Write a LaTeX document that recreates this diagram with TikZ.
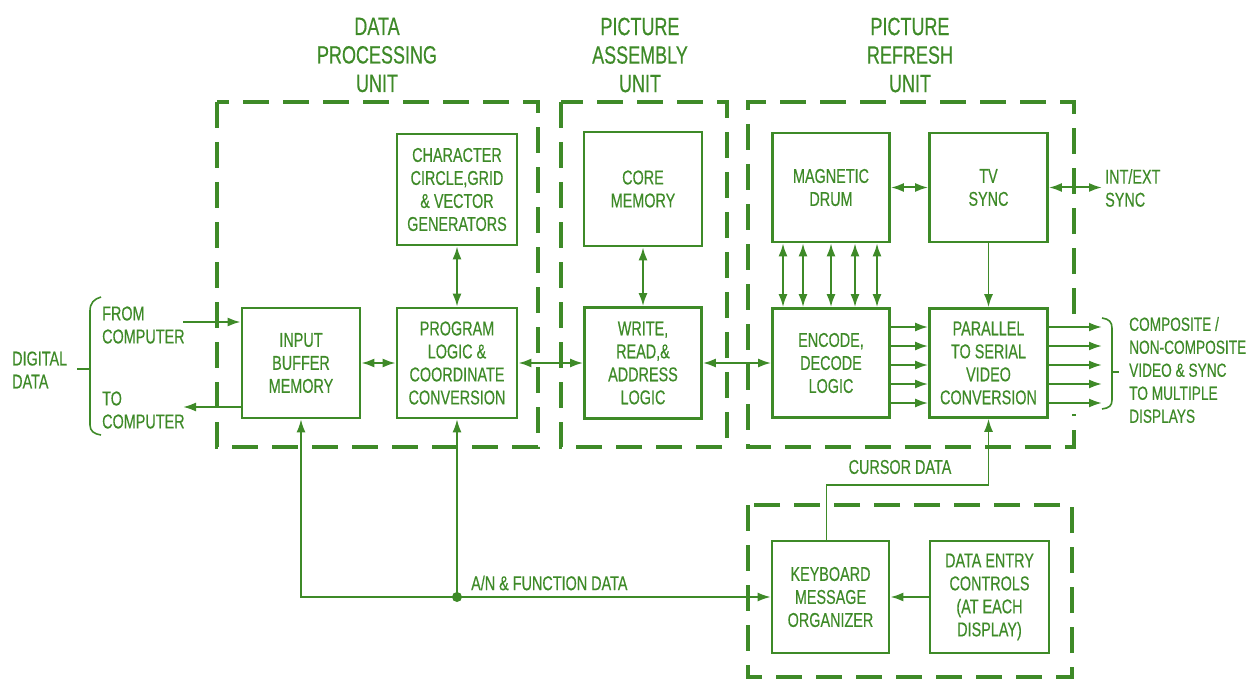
\documentclass[tikz,border=0pt]{standalone}
\usepackage{fontspec}
\setmainfont{Liberation Sans}[FakeStretch=0.72,FakeBold=0.4]
\usetikzlibrary{arrows.meta}
\definecolor{dg}{RGB}{62,138,40}
\begin{document}
\begin{tikzpicture}[x=1pt,y=-1pt,
 every node/.style={text=dg},
 blk/.style={draw=dg, line width=2.7pt, align=center, inner sep=0pt, font=\fontsize{20}{23}\selectfont},
 unitbox/.style={draw=dg, line width=4.5pt, dash pattern=on 26pt off 14pt},
 ttl/.style={align=center, font=\fontsize{25}{28.5}\selectfont},
 lbl/.style={align=left, inner sep=0pt, font=\fontsize{20}{23}\selectfont, anchor=west},
 conn/.style={draw=dg, line width=2pt},
 thinl/.style={draw=dg, line width=1.6pt},
 tip/.style={-{Latex[length=13pt,width=9pt]}},
 dtip/.style={{Latex[length=13pt,width=9pt]}-{Latex[length=13pt,width=9pt]}},
]
\useasboundingbox (0,0) rectangle (1259,682);

% unit boxes
\draw[unitbox] (217,102) rectangle (538,447);
\draw[unitbox] (561,102) rectangle (727,447);
\draw[unitbox] (1074,314) -- (1074,102) -- (748,102) -- (748,447) -- (1074,447) -- (1074,414);
\draw[unitbox] (748,505) rectangle (1072,677);

% titles
\node[ttl] (t1) at (377,55) {DATA\\PROCESSING\\UNIT};
\node[ttl] (t2) at (640,55) {PICTURE\\ASSEMBLY\\UNIT};
\node[ttl] (t3) at (910,55) {PICTURE\\REFRESH\\UNIT};

% blocks
\node[blk, minimum width=120pt, minimum height=111pt] (char) at (457,189.5) {CHARACTER\\CIRCLE,GRID\\\& VECTOR\\GENERATORS};
\node[blk, minimum width=120pt, minimum height=110pt] (prog) at (457,363) {PROGRAM\\LOGIC \&\\COORDINATE\\CONVERSION};
\node[blk, minimum width=118pt, minimum height=110pt] (buf) at (301,363) {INPUT\\BUFFER\\MEMORY};
\node[blk, minimum width=118pt, minimum height=114pt] (core) at (643,189) {CORE\\MEMORY};
\node[blk, minimum width=117pt, minimum height=111pt] (write) at (643,363) {WRITE,\\READ,\&\\ADDRESS\\LOGIC};
\node[blk, minimum width=117pt, minimum height=109pt] (drum) at (831,187.5) {MAGNETIC\\DRUM};
\node[blk, minimum width=118pt, minimum height=109pt] (tv) at (988.5,187.5) {TV\\SYNC};
\node[blk, minimum width=117pt, minimum height=109pt] (enc) at (831,363) {ENCODE,\\DECODE\\LOGIC};
\node[blk, minimum width=118pt, minimum height=109pt] (par) at (988.5,363) {PARALLEL\\TO SERIAL\\VIDEO\\CONVERSION};
\node[blk, minimum width=117pt, minimum height=112pt] (kb) at (830.5,597) {KEYBOARD\\MESSAGE\\ORGANIZER};
\node[blk, minimum width=119pt, minimum height=112pt] (de) at (989.5,597) {DATA ENTRY\\CONTROLS\\(AT EACH\\DISPLAY)};

% labels
\node[lbl] (dd) at (12,370) {DIGITAL\\DATA};
\node[lbl] (fcl) at (102,325) {FROM\\COMPUTER};
\node[lbl] (tcl) at (102,410) {TO\\COMPUTER};
\node[lbl] (iel) at (1105,188) {INT/EXT\\SYNC};
\node[lbl, font=\fontsize{19}{23}\selectfont] (outl) at (1129,370) {COMPOSITE /\\NON-COMPOSITE\\VIDEO \& SYNC\\TO MULTIPLE\\DISPLAYS};
\node[lbl] (anl) at (471,583) {A/N \& FUNCTION DATA};
\node[font=\fontsize{20}{23}\selectfont, inner sep=0pt] (cdl) at (900,467) {CURSOR DATA};

% coordinates
\coordinate (fc) at (183,322);
\coordinate (tc) at (183,407);
\coordinate (ie) at (1102,187.5);
\coordinate (j) at (457,597);
\coordinate (cur) at (900,485);
\coordinate (e1) at (1102,327);
\coordinate (e2) at (1102,346);
\coordinate (e3) at (1102,365);
\coordinate (e4) at (1102,384);
\coordinate (e5) at (1102,403);

% connectors
\draw[conn,tip] (fc) -- (fc -| buf.west);
\draw[conn,tip] (tc -| buf.west) -- (tc);
\draw[conn,dtip] (buf.east) -- (prog.west);
\draw[conn,dtip] (char.south) -- (prog.north);
\draw[conn,dtip] (prog.east) -- (write.west);
\draw[conn,dtip] (core.south) -- (write.north);
\draw[conn,dtip] (write.east) -- (enc.west);
\draw[conn,dtip] (drum.east) -- (tv.west);
\draw[conn,dtip] (tv.east) -- (ie);
\foreach \dx in {-48,-28,0,24,46}
  \draw[conn,dtip] ([xshift=\dx pt]drum.south) -- ([xshift=\dx pt]enc.north);
\foreach \dy in {36,17,-2,-21,-40}
  \draw[conn,tip] ([yshift=\dy pt]enc.east) -- ([yshift=\dy pt]par.west);
\draw[conn,tip] ([yshift=36pt]par.east) -- (e1);
\draw[conn,tip] ([yshift=17pt]par.east) -- (e2);
\draw[conn,tip] ([yshift=-2pt]par.east) -- (e3);
\draw[conn,tip] ([yshift=-21pt]par.east) -- (e4);
\draw[conn,tip] ([yshift=-40pt]par.east) -- (e5);
\draw[thinl,tip] (tv.south) -- (par.north);
\draw[thinl,tip] ([xshift=-4pt]kb.north) |- (cur) -| (par.south);
\draw[thinl,tip] (j) -- (prog.south);
\draw[thinl,tip] (j) -| (buf.south);
\draw[thinl,tip] (j) -- (kb.west);
\draw[conn,tip] (de.west) -- (kb.east);
\fill[dg] (j) circle (5pt);

% braces
\draw[thinl] (101,297) .. controls (94,299) and (90,303) .. (90,311) -- (90,425) .. controls (90,431) and (94,434) .. (101,435);
\draw[thinl] (77,369) -- (90,369);
\draw[thinl] (1102,318) .. controls (1109,319) and (1112,322) .. (1112,328) -- (1112,400) .. controls (1112,406) and (1109,408) .. (1102,409);
\draw[thinl] (1112,372) -- (1119,372);
\end{tikzpicture}
\end{document}
